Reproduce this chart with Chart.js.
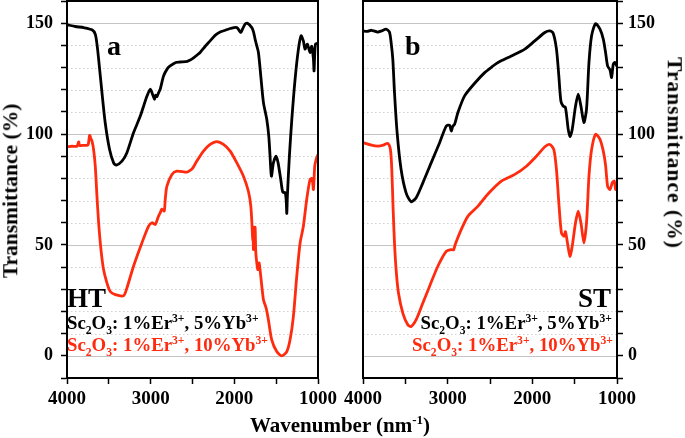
<!DOCTYPE html>
<html><head><meta charset="utf-8">
<script src="https://cdn.jsdelivr.net/npm/chart.js@4.4.1/dist/chart.umd.min.js"></script>
<style>
html,body{margin:0;padding:0;background:#fff}
body{width:685px;height:438px;position:relative;overflow:hidden;font-family:"Liberation Serif","Times New Roman",serif;font-weight:bold;color:#000}
canvas{position:absolute;top:0}
.t{position:absolute;white-space:nowrap;font-weight:bold;line-height:1}
sub,sup{font-size:0.62em;line-height:0}
.red{color:#ff2b0f}
</style>
</head><body>
<canvas id="cl" width="340" height="438" style="left:0"></canvas>
<canvas id="cr" width="345" height="438" style="left:340px"></canvas>

<div class="t" style="left:11px;top:191px;font-size:21.5px;transform:translate(-50%,-50%) rotate(-90deg)">Transmittance (%)</div>
<div class="t" style="left:674px;top:153px;font-size:21.5px;letter-spacing:1px;transform:translate(-50%,-50%) rotate(90deg)">Transmittance (%)</div>
<div class="t" style="left:340px;top:415px;font-size:21px;transform:translateX(-50%)">Wavenumber (nm<sup>-1</sup>)</div>

<div class="t" style="left:107px;top:32px;font-size:28px">a</div>
<div class="t" style="left:405px;top:32px;font-size:28px">b</div>
<div class="t" style="left:67px;top:285px;font-size:27px">HT</div>
<div class="t" style="right:74px;top:285px;font-size:27px">ST</div>
<div class="t" style="left:67px;top:314px;font-size:18.8px">Sc<sub>2</sub>O<sub>3</sub>: 1%Er<sup>3+</sup>, 5%Yb<sup>3+</sup></div>
<div class="t red" style="left:67px;top:336px;font-size:18.8px">Sc<sub>2</sub>O<sub>3</sub>: 1%Er<sup>3+</sup>, 10%Yb<sup>3+</sup></div>
<div class="t" style="right:73px;top:314px;font-size:18.8px">Sc<sub>2</sub>O<sub>3</sub>: 1%Er<sup>3+</sup>, 5%Yb<sup>3+</sup></div>
<div class="t red" style="right:72px;top:336px;font-size:18.8px">Sc<sub>2</sub>O<sub>3</sub>: 1%Er<sup>3+</sup>, 10%Yb<sup>3+</sup></div>

<script>
// ---- data (wavenumber, transmittance %) ----
const htWn5 = [4000,3900,3800,3701,3662,3640,3622,3582,3543,3491,3443,3411,3343,3284,3205,3125,3045,3005,2973,2954,2940,2925,2906,2886,2846,2800,2767,2700,2647,2560,2528,2500,2450,2409,2350,2289,2230,2170,2110,2050,1970,1922,1900,1871,1843,1791,1770,1752,1740,1712,1684,1652,1612,1588,1573,1557,1533,1501,1477,1445,1421,1393,1380,1373,1366,1342,1313,1274,1234,1202,1175,1155,1127,1095,1075,1055,1047,1031,1000];
const htT5  = [149.3,148.5,148,147,145,140,133.8,118.7,105,93,87,86,87.8,91.6,100.6,108,117,120.2,117.5,115.7,117.5,116.9,118.6,120.2,126.2,129.5,130.7,132.3,132.5,132.8,133.4,134,135.5,136.8,139.5,142,144.5,146,146.8,147.6,148,145.8,147.5,149.6,150,148,146,142.8,141,136.8,126.2,114.2,106.6,99,90,81,87,90,87,79.5,73.8,73.5,70,64.2,72,90,106.6,124.7,138.3,144.3,142,138.3,140.5,136.8,139.6,134,128.5,140.5,141];

const htWn10 = [4000,3940,3881,3861,3850,3821,3761,3745,3730,3715,3701,3682,3662,3642,3622,3594,3563,3522,3483,3423,3324,3284,3205,3105,3026,2985,2946,2906,2886,2866,2838,2826,2806,2746,2687,2567,2528,2500,2448,2369,2289,2209,2130,2050,1970,1891,1832,1803,1788,1780,1775,1772,1762,1752,1745,1740,1720,1704,1684,1652,1620,1593,1553,1493,1433,1373,1334,1294,1254,1214,1175,1135,1095,1071,1055,1039,1023,1000];
const htT10  = [94.3,94.5,94.5,96.5,94.8,94.9,94.9,95.5,99.4,98,96.8,93,85.5,72,60,47.9,38.9,32.8,29,27.6,27.1,30.6,40.4,50.9,58.4,60,59.2,63,64.5,66.2,65.3,70.5,76.5,81.8,83.3,82.8,83.6,84.5,87.8,92.3,95.3,96.6,95.3,92.3,87,81,74.2,67.5,58.4,52,58,47.9,56,58,48,44.9,38.9,41.9,35.8,25.3,21.5,16.3,7.2,1.9,0,1.9,7.2,17.8,35.8,50.9,58.4,70.5,79.5,80,75,85.5,88.5,90.8];

const stWn5 = [4000,3950,3900,3826,3780,3728,3688,3668,3648,3628,3597,3550,3491,3432,3372,3293,3195,3095,3017,2977,2958,2940,2918,2879,2800,2681,2563,2464,2405,2248,2089,1971,1852,1793,1754,1715,1687,1663,1636,1609,1576,1556,1529,1490,1458,1426,1391,1360,1331,1300,1253,1201,1162,1135,1111,1083,1064,1044,1024,1000];
const stT5  = [146.5,146.3,146.8,146,146.5,147.3,146,141.3,133.8,118.7,100.6,84,73.5,69.5,71.3,78,87,96.1,103.6,104,101.4,103.5,104.4,109.7,117.2,122.9,127.7,130.7,132.3,135.2,138.3,142,145.8,146.5,145.5,138.3,126.2,114.9,112.6,112,102.1,98.8,102.1,112.6,118,112.6,105.2,111.2,132.3,144.3,149.8,147.3,142.8,136.8,130.7,129,125.5,131.5,132.3,130.5];

const stWn10 = [4000,3900,3826,3760,3708,3676,3660,3644,3628,3609,3581,3530,3471,3432,3372,3293,3214,3116,3017,2958,2930,2911,2840,2760,2642,2524,2366,2207,2070,1952,1852,1793,1746,1715,1687,1656,1624,1609,1585,1556,1529,1490,1458,1426,1391,1360,1331,1300,1253,1201,1162,1135,1111,1083,1056,1032,1016,1000];
const stT10  = [96.1,95,94.6,95,95.8,93,84,66,50.9,38.9,28.3,19.3,14,13.2,16.3,23.8,31.3,40.4,47.1,47.9,47.8,50.2,56.9,63,67.5,73,78.8,81.8,85.5,90,94.3,95.3,93,84,69,55.4,53.9,56,50.9,44.9,49.4,60,65.2,60,50.9,60,81,93,99.9,97.6,92.3,86,76.5,75,78,78.8,75,76];

const yLabelValues = [0,50,100,150];
const xLabelValues = [1000,2000,3000,4000];

const BLACK = '#000000', RED = '#ff2b0f';
const FONT = '"Liberation Serif","Times New Roman",serif';

function pts(xs, ys){ return xs.map((x,i)=>({x:x, y:ys[i]})); }

const gridFrame = {
  id:'gridFrame',
  beforeDatasetsDraw(chart){
    const {ctx, chartArea:a} = chart;
    const y = chart.scales.y;
    ctx.save();
    y.ticks.forEach(t=>{
      const v = t.value;
      if (v <= y.min || v >= y.max) return;
      const py = Math.round(y.getPixelForValue(v)) + 0.5;
      ctx.beginPath();
      if (v % 50 === 0){ ctx.setLineDash([]); ctx.strokeStyle='#c4c4c4'; ctx.lineWidth=1.2; }
      else { ctx.setLineDash([1.5,2.5]); ctx.strokeStyle='#d0d0d0'; ctx.lineWidth=1; }
      ctx.moveTo(a.left, py); ctx.lineTo(a.right, py); ctx.stroke();
    });
    ctx.restore();
  },
  afterDatasetsDraw(chart){
    const {ctx, chartArea:a} = chart;
    ctx.save();
    ctx.strokeStyle='#000'; ctx.lineWidth=2; ctx.setLineDash([]);
    ctx.strokeRect(a.left, a.top, a.width, a.height);
    ctx.restore();
  }
};

function makeChart(id, side, black, red, padding, yWidth){
  return new Chart(document.getElementById(id), {
    type:'line',
    data:{datasets:[
      {data:black, borderColor:BLACK, borderWidth:2.8, pointRadius:0, tension:0.25, fill:false},
      {data:red, borderColor:RED, borderWidth:2.8, pointRadius:0, tension:0.25, fill:false}
    ]},
    options:{
      responsive:false, devicePixelRatio:1, animation:false,
      layout:{padding:padding},
      plugins:{legend:{display:false}, tooltip:{enabled:false}},
      scales:{
        x:{type:'linear', reverse:true, min:1000, max:4000,
           ticks:{stepSize:500, autoSkip:false, maxRotation:0, color:'#000', padding:4,
                  font:{family:FONT, size:19, weight:'bold'},
                  callback:v=> xLabelValues.includes(v) ? String(v) : ''},
           grid:{drawOnChartArea:false, drawTicks:true, tickLength:6, tickColor:'#000', tickWidth:1.5},
           border:{color:'#000', width:2},
           afterFit:s=>{ s.height = 60; s.paddingLeft = 0; s.paddingRight = 0; }
        },
        y:{type:'linear', position:side, min:-10, max:160,
           ticks:{stepSize:10, autoSkip:false, color:'#000', padding: side==='left'?8:5,
                  font:{family:FONT, size:18, weight:'bold'},
                  callback:v=> yLabelValues.includes(v) ? String(v) : ''},
           grid:{drawOnChartArea:false, drawTicks:true, tickLength:6, tickColor:'#000', tickWidth:1.5},
           border:{color:'#000', width:2},
           afterFit:s=>{ s.width = yWidth; s.paddingTop = 0; s.paddingBottom = 0; }
        }
      }
    },
    plugins:[gridFrame]
  });
}

makeChart('cl','left', pts(htWn5,htT5), pts(htWn10,htT10), {left:0,right:22,top:1,bottom:0}, 67);
makeChart('cr','right', pts(stWn5,stT5), pts(stWn10,stT10), {left:23,right:0,top:1,bottom:0}, 68);
</script>
</body></html>
